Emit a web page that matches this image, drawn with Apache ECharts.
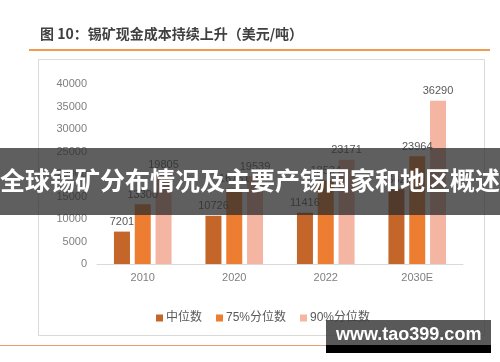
<!DOCTYPE html>
<html><head><meta charset="utf-8">
<script src="https://cdn.jsdelivr.net/npm/echarts@6/dist/echarts.min.js"></script>
<style>html,body{margin:0;padding:0;background:#fff}#c{width:500px;height:362px}</style>
</head><body><div id="c"></div>
<script>
const categories = ['2010', '2020', '2022', '2030E'];
const median = [7201, 10726, 11416, 16625];
const p75 = [13300, 16761, 18534, 23964];
const p90 = [19805, 19539, 23171, 36290];
const seriesNames = ['中位数', '75%分位数', '90%分位数'];
const titleText = '图 10：锡矿现金成本持续上升（美元/吨）';
const bannerText = '全球锡矿分布情况及主要产锡国家和地区概述';
const watermark = 'www.tao399.com';

const FONT = '"Liberation Sans", "Noto Sans CJK SC", sans-serif';
const colors = ['#C4652A', '#ED7D31', '#F4B5A2'];
const chart = echarts.init(document.getElementById('c'));
const lbl = {show: true, position: 'top', color: '#595959', fontSize: 11, fontFamily: FONT, distance: 4};
function mk(name, data, i) {
  return {name, type: 'bar', data, barWidth: 16, barGap: '30%',
    itemStyle: {color: colors[i]},
    label: Object.assign({}, lbl),
    z: 2};
}
chart.setOption({
  animation: false,
  backgroundColor: '#fff',
  textStyle: {fontFamily: FONT},
  grid: {left: 97, right: 37, top: 84, bottom: 98, containLabel: false},
  legend: {
    data: seriesNames, left: 151, top: 307, itemWidth: 7, itemHeight: 7, itemGap: 14,
    icon: 'rect', textStyle: {color: '#595959', fontSize: 12, fontFamily: FONT, padding: [0, 0, 0, -2]}
  },
  xAxis: {
    type: 'category', data: categories,
    axisLine: {lineStyle: {color: '#d9d9d9', width: 1}},
    axisTick: {show: false},
    axisLabel: {color: '#7f7f7f', fontSize: 11, margin: 8, fontFamily: FONT}
  },
  yAxis: {
    type: 'value', min: 0, max: 40000, interval: 5000,
    axisLine: {show: false}, axisTick: {show: false},
    splitLine: {show: false},
    axisLabel: {color: '#7f7f7f', fontSize: 11, margin: 10, fontFamily: FONT, formatter: v => String(v)}
  },
  series: [mk(seriesNames[0], median, 0), mk(seriesNames[1], p75, 1), mk(seriesNames[2], p90, 2)],
  graphic: [
    {type: 'text', left: 40, top: 27, z: 50, style: {text: titleText, fill: '#404040', font: 'bold 14px "Noto Sans CJK SC", sans-serif'}},
    {type: 'line', z: 50, shape: {x1: 29, y1: 50, x2: 490, y2: 50}, style: {stroke: '#F19A50', lineWidth: 2}},
    {type: 'rect', z: 0, shape: {x: 38.5, y: 59.5, width: 446, height: 276}, style: {fill: 'none', stroke: '#d9d9d9', lineWidth: 1}},
    {type: 'line', z: 50, shape: {x1: 0, y1: 345.5, x2: 490, y2: 345.5}, style: {stroke: '#E8A072', lineWidth: 1}},
    {type: 'rect', z: 100, shape: {x: 0, y: 148, width: 500, height: 67}, style: {fill: 'rgba(45,45,45,0.76)'}},
    {type: 'text', z: 101, left: 'center', top: 168, style: {text: bannerText, fill: '#fff', font: 'bold 25px "Noto Sans CJK SC", sans-serif'}},
    {type: 'rect', z: 100, shape: {x: 326, y: 320, width: 165, height: 25}, style: {fill: 'rgba(60,60,60,0.85)'}},
    {type: 'rect', z: 100, shape: {x: 326, y: 345, width: 165, height: 8}, style: {fill: '#000'}},
    {type: 'text', z: 101, left: 336, top: 326, style: {text: watermark, fill: '#fff', font: 'bold 18px "Liberation Sans", sans-serif'}}
  ]
});
</script></body></html>
